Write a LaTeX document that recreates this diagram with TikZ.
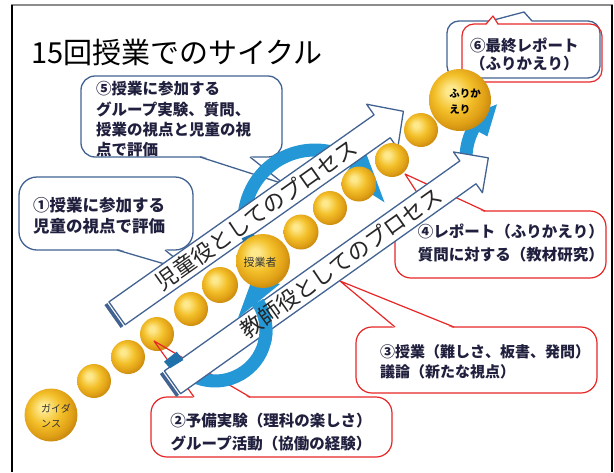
\documentclass[tikz,border=0pt]{standalone}
\usepackage{fontspec}
\setmainfont{Noto Sans CJK JP}
\definecolor{procline}{RGB}{66,99,146}
\definecolor{callred}{RGB}{232,38,38}
\definecolor{navytext}{RGB}{32,32,62}
\definecolor{ringblue}{RGB}{36,152,214}
\definecolor{ringdark}{RGB}{32,112,170}
\definecolor{goldhi}{RGB}{253,232,140}
\definecolor{goldmid}{RGB}{243,192,42}
\definecolor{goldlow}{RGB}{224,160,22}
\definecolor{goldedge}{RGB}{186,124,12}
\pgfdeclareradialshading{goldball}{\pgfpoint{-8bp}{8bp}}{color(0bp)=(goldhi); color(4bp)=(goldhi); color(15bp)=(goldmid); color(24bp)=(goldlow); color(32bp)=(goldedge); color(50bp)=(goldedge)}
\begin{document}
\begin{tikzpicture}[x=1pt, y=-1pt, line join=round,
  bluecall/.style={draw=procline, line width=1.3pt, fill=white},
  redcall/.style={draw=callred, line width=1.2pt, fill=white},
  calltext/.style={font=\fontsize{15.5}{18}\selectfont\bfseries, text=navytext, inner sep=0pt, align=left},
  procarrow/.style={draw=procline, line width=1.3pt, fill=white},
  proctext/.style={font=\fontsize{22}{22}\selectfont, text=black!85, inner sep=0pt},
  ring/.style={draw=ringblue, line width=13pt},
  ball/.style={circle, shade, shading=goldball, inner sep=0pt},
  balltext/.style={font=\fontsize{10}{13}\selectfont, text=black!80, inner sep=0pt, align=left}]
\useasboundingbox (0,0) rectangle (614,472);
\draw[black!45, line width=2pt] (11,5) -- (613,5);
\draw[line width=1.2pt] (12,5) -- (12,472) (612,5) -- (612,472);
\node (title) at (31,52.5)[right, inner sep=0pt, font=\fontsize{29}{29}\selectfont]{15回授業でのサイクル};

\draw[procline, line width=1.3pt, rounded corners=12pt] (447,21) rectangle (600,78);
\fill[white] (490,22) -- (524,12) -- (532,22) -- cycle;
\draw[procline, line width=1.3pt] (490,21) -- (524,12) -- (532,21);
\draw[callred, line width=1.2pt, rounded corners=12pt] (462,24) rectangle (602,82);
\fill[white] (486,25.5) -- (493,16) -- (498,25.5) -- cycle;
\draw[callred, line width=1.2pt] (486,24) -- (493,16) -- (498,24);
\node[calltext] (finalreport) at (470,55)[right]{⑥最終レポート\\（ふりかえり）};

\draw[bluecall, rounded corners=14pt] (81,76) rectangle (282,157);
\fill[white] (200,155.5) -- (284,184) -- (250,155.5) -- cycle;
\draw[bluecall, fill=none] (200,157) -- (284,184) -- (250,157);
\node[calltext] (groupwork) at (96,119.5)[right]{⑤授業に参加する\\[2.3pt]グループ実験、質問、\\[2.3pt]授業の視点と児童の視\\[2.3pt]点で評価};

\draw[bluecall, rounded corners=18pt] (19,177) rectangle (193,250);
\fill[white] (117,248.5) -- (192,272) -- (165,248.5) -- cycle;
\draw[bluecall, fill=none] (117,250) -- (192,272) -- (165,250);
\node[calltext, font=\fontsize{16.5}{18}\selectfont\bfseries] (childview) at (33,215.5)[right]{①授業に参加する\\[3pt]児童の視点で評価};

\draw[redcall, rounded corners=16pt] (395,211) rectangle (606,278);
\fill[white] (429,212.5) -- (405,174) -- (485,212.5) -- cycle;
\draw[redcall, fill=none] (429,211) -- (405,174) -- (485,211);
\node[calltext, align=right] (report) at (604,243.5)[left]{④レポート（ふりかえり）\\[5pt]質問に対する（教材研究）};

\draw[redcall, rounded corners=16pt] (356,327) rectangle (597,393);
\fill[white] (395,328.5) -- (340,281) -- (454,328.5) -- cycle;
\draw[redcall, fill=none] (395,327) -- (340,281) -- (454,327);
\node[calltext, font=\fontsize{15}{18}\selectfont\bfseries] (lesson) at (380,362)[right]{③授業（難しさ、板書、発問）\\[2pt]議論（新たな視点）};

\draw[redcall, rounded corners=16pt] (151,397) rectangle (392,457);
\fill[white] (194,398.5) -- (154,341) -- (250,398.5) -- cycle;
\draw[redcall, fill=none] (194,397) -- (154,341) -- (250,397);
\node[calltext, align=center] (prelab) at (271,432.5){②予備実験（理科の楽しさ）\\[5pt]グループ活動（協働の経験）};

\draw[ring] (315,221) ++(168:71) arc[start angle=168, end angle=305, radius=71];
\fill[ringblue] (315,221) +(303:53) -- +(303:89) -- +(345:72) -- cycle;
\draw[ring] (215,330) ++(144:51) arc[start angle=144, end angle=-33, radius=51];
\draw[ring] (528,158) ++(155:62) arc[start angle=155, end angle=210, radius=62];
\fill[ringblue] (528,158) +(208:46) -- +(208:80) -- +(240:62) -- cycle;

\begin{scope}[shift={(112.5,316.5)}, rotate=35.2]
  \fill[procline] (0,-14) rectangle (3.5,14);
  \draw[procarrow] (5.5,-14) -- (330,-14) -- (330,-27) -- (356,0) -- (330,27) -- (330,14) -- (5.5,14) -- cycle;
  \node[proctext, rotate=35.2] (childrole) at (176,0){児童役としてのプロセス};
\end{scope}
\begin{scope}[shift={(168,385.5)}, rotate=35.4]
  \fill[procline] (0,-14) rectangle (3.5,14);
  \draw[procarrow] (5.5,-14) -- (368,-14) -- (368,-25) -- (393,0) -- (368,25) -- (368,14) -- (5.5,14) -- cycle;
  \coordinate (teachermid) at (212,0);
\end{scope}
\draw[ring] (215,330) ++(15:51) arc[start angle=15, end angle=-33, radius=51];
\fill[ringblue] (238,318) -- (280,284) -- (253,277) -- cycle;
\node[proctext, rotate=35.4] (teacherrole) at (teachermid){教師役としてのプロセス};
\fill[ringdark] (241.7,238.3) -- (253.3,233.3) -- (256.7,240) -- (245,245) -- cycle;
\fill[ringdark] (164,361.7) -- (176.7,351.7) -- (183.3,360) -- (170,368.3) -- cycle;

\foreach \bx/\by/\bs [count=\i] in {94/381/34, 128/357/34, 157/334/34, 191/309/34, 220/285/36, 301/232/35, 330/208/34, 359/184/35, 392/160/34, 421/130/34}
  \node[ball, minimum size=\bs pt] (b\i) at (\bx,\by){};
\node[ball, minimum size=53pt] (guide) at (51,415){};
\node[ball, minimum size=54pt] (teacher) at (263,261){};
\node[ball, minimum size=62pt] (review) at (460,100){};
\node[balltext] (guidetext) at (56,415.5){ガイダ\\[2pt]ンス};
\node[balltext, font=\fontsize{11}{13}\selectfont] (teachertext) at (260,262){授業者};
\node[balltext, font=\fontsize{10.5}{13}\selectfont\bfseries, text=black] (reviewtext) at (465,101.5){ふりか\\[3pt]えり};

\begin{scope}
  \clip (b3.center) circle (17);
  \draw[callred, line width=1.2pt] (194,397) -- (154,341) -- (250,397);
\end{scope}
\end{tikzpicture}
\end{document}
